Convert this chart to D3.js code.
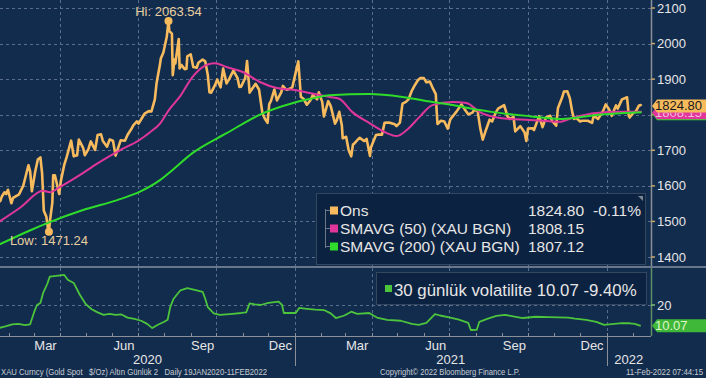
<!DOCTYPE html>
<html>
<head>
<meta charset="utf-8">
<script src="https://cdn.jsdelivr.net/npm/d3@7"></script>
<style>
   html, body { margin: 0; padding: 0; background: #112b4c; }
   svg { display: block; font-family: "Liberation Sans", Arial, sans-serif; }
</style>
</head>
<body>
<div id="chart"></div>
<script>
// gold spot (XAU)
const ons = [
   ["2020-01-20",1560],["2020-01-22",1557],["2020-01-24",1571],["2020-01-27",1582],["2020-01-29",1577],["2020-01-31",1589],
   ["2020-02-04",1551],["2020-02-06",1566],["2020-02-10",1572],["2020-02-13",1576],["2020-02-18",1601],["2020-02-20",1620],
   ["2020-02-24",1658],["2020-02-26",1641],["2020-02-28",1585],["2020-03-03",1641],["2020-03-06",1674],["2020-03-09",1680],
   ["2020-03-11",1635],["2020-03-13",1530],["2020-03-16",1513],["2020-03-18",1478],["2020-03-19",1471.24],["2020-03-20",1498],
   ["2020-03-23",1553],["2020-03-24",1630],["2020-03-26",1630],["2020-03-31",1577],["2020-04-02",1614],["2020-04-06",1660],
   ["2020-04-09",1683],["2020-04-14",1727],["2020-04-17",1683],["2020-04-21",1686],["2020-04-23",1730],["2020-04-28",1707],
   ["2020-04-30",1686],["2020-05-04",1702],["2020-05-07",1725],["2020-05-12",1701],["2020-05-15",1743],["2020-05-19",1745],
   ["2020-05-21",1727],["2020-05-26",1710],["2020-05-29",1730],["2020-06-02",1727],["2020-06-05",1685],["2020-06-09",1714],
   ["2020-06-11",1728],["2020-06-16",1727],["2020-06-19",1743],["2020-06-24",1762],["2020-06-26",1771],["2020-06-30",1781],
   ["2020-07-02",1775],["2020-07-07",1795],["2020-07-09",1803],["2020-07-14",1810],["2020-07-17",1809],["2020-07-21",1843],
   ["2020-07-23",1888],["2020-07-24",1902],["2020-07-27",1941],["2020-07-28",1958],["2020-07-31",1975],["2020-08-04",2019],
   ["2020-08-06",2063.54],["2020-08-07",2035],["2020-08-10",2028],["2020-08-11",1911],["2020-08-13",1955],["2020-08-14",1944],
   ["2020-08-18",2013],["2020-08-19",1930],["2020-08-21",1940],["2020-08-25",1928],["2020-08-27",1929],["2020-08-28",1964],
   ["2020-09-01",1970],["2020-09-04",1934],["2020-09-08",1932],["2020-09-10",1946],["2020-09-15",1955],["2020-09-18",1950],
   ["2020-09-21",1912],["2020-09-23",1863],["2020-09-25",1862],["2020-09-30",1886],["2020-10-02",1899],["2020-10-06",1877],
   ["2020-10-09",1930],["2020-10-13",1888],["2020-10-16",1900],["2020-10-21",1924],["2020-10-26",1902],["2020-10-28",1878],
   ["2020-10-30",1879],["2020-11-04",1904],["2020-11-06",1951],["2020-11-09",1862],["2020-11-12",1873],["2020-11-16",1887],
   ["2020-11-20",1871],["2020-11-24",1804],["2020-11-27",1788],["2020-11-30",1777],["2020-12-02",1830],["2020-12-04",1839],
   ["2020-12-08",1871],["2020-12-11",1840],["2020-12-16",1863],["2020-12-18",1881],["2020-12-21",1872],["2020-12-23",1870],
   ["2020-12-29",1877],["2020-12-31",1898],["2021-01-05",1950],["2021-01-06",1918],["2021-01-08",1850],["2021-01-11",1845],
   ["2021-01-15",1828],["2021-01-19",1840],["2021-01-22",1855],["2021-01-27",1843],["2021-01-29",1863],["2021-02-02",1836],
   ["2021-02-04",1795],["2021-02-09",1838],["2021-02-12",1824],["2021-02-17",1775],["2021-02-19",1784],["2021-02-22",1808],
   ["2021-02-25",1770],["2021-02-26",1734],["2021-03-02",1738],["2021-03-05",1700],["2021-03-08",1683],["2021-03-10",1716],
   ["2021-03-12",1720],["2021-03-16",1731],["2021-03-18",1735],["2021-03-23",1726],["2021-03-26",1732],["2021-03-30",1684],
   ["2021-03-31",1708],["2021-04-06",1743],["2021-04-09",1744],["2021-04-13",1744],["2021-04-16",1777],["2021-04-20",1778],
   ["2021-04-23",1777],["2021-04-28",1773],["2021-04-30",1768],["2021-05-04",1778],["2021-05-07",1831],["2021-05-11",1836],
   ["2021-05-14",1843],["2021-05-18",1868],["2021-05-21",1881],["2021-05-25",1897],["2021-05-28",1903],["2021-06-01",1903],
   ["2021-06-04",1891],["2021-06-08",1893],["2021-06-11",1877],["2021-06-15",1858],["2021-06-16",1812],["2021-06-17",1774],
   ["2021-06-21",1783],["2021-06-25",1781],["2021-06-29",1761],["2021-07-02",1787],["2021-07-07",1802],["2021-07-09",1808],
   ["2021-07-15",1829],["2021-07-20",1811],["2021-07-23",1801],["2021-07-28",1806],["2021-07-30",1814],["2021-08-03",1810],
   ["2021-08-06",1763],["2021-08-09",1730],["2021-08-12",1752],["2021-08-17",1786],["2021-08-20",1781],["2021-08-24",1805],
   ["2021-08-27",1817],["2021-09-03",1827],["2021-09-07",1795],["2021-09-10",1788],["2021-09-14",1794],["2021-09-16",1753],
   ["2021-09-22",1768],["2021-09-27",1750],["2021-09-29",1726],["2021-10-01",1761],["2021-10-06",1762],["2021-10-08",1757],
   ["2021-10-14",1796],["2021-10-18",1765],["2021-10-22",1792],["2021-10-27",1797],["2021-10-29",1783],["2021-11-03",1769],
   ["2021-11-05",1818],["2021-11-10",1849],["2021-11-12",1865],["2021-11-16",1866],["2021-11-19",1846],["2021-11-22",1805],
   ["2021-11-24",1788],["2021-11-26",1792],["2021-12-01",1781],["2021-12-03",1783],["2021-12-08",1783],["2021-12-10",1783],
   ["2021-12-15",1777],["2021-12-17",1798],["2021-12-22",1788],["2021-12-28",1811],["2021-12-31",1829],["2022-01-04",1815],
   ["2022-01-07",1797],["2022-01-12",1826],["2022-01-14",1817],["2022-01-19",1843],["2022-01-25",1849],["2022-01-27",1797],
   ["2022-01-28",1792],["2022-02-02",1807],["2022-02-04",1808],["2022-02-08",1826],["2022-02-10",1827],["2022-02-11",1824.80]
];

const sma50 = [
   ["2020-01-20",1498],["2020-02-15",1540],["2020-03-12",1586],["2020-03-20",1582],["2020-04-01",1597],["2020-04-24",1630],
   ["2020-05-14",1662],["2020-06-10",1700],["2020-07-03",1729],["2020-07-15",1750],["2020-07-27",1775],["2020-08-07",1815],
   ["2020-08-19",1850],["2020-09-03",1906],["2020-09-15",1934],["2020-09-29",1945],["2020-10-13",1934],["2020-11-01",1920],
   ["2020-11-21",1892],["2020-12-11",1875],["2020-12-30",1870],["2021-01-18",1861],["2021-02-11",1850],["2021-02-22",1845],
   ["2021-03-09",1808],["2021-03-29",1777],["2021-04-18",1749],["2021-04-30",1740],["2021-05-12",1757],["2021-05-27",1794],
   ["2021-06-11",1827],["2021-07-05",1836],["2021-07-21",1833],["2021-08-05",1808],["2021-08-29",1791],["2021-10-03",1785],
   ["2021-10-23",1782],["2021-11-07",1780],["2021-11-22",1791],["2021-12-20",1805],["2022-01-16",1808],["2022-02-11",1808.15]
];

const sma200 = [
   ["2020-01-20",1434],["2020-02-27",1476],["2020-03-20",1498],["2020-04-28",1532],["2020-06-07",1560],["2020-07-03",1583],
   ["2020-07-27",1616],["2020-08-08",1639],["2020-09-03",1692],["2020-10-13",1748],["2020-11-21",1800],["2020-12-30",1833],
   ["2021-01-18",1844],["2021-02-11",1855],["2021-03-29",1858],["2021-05-07",1850],["2021-06-11",1836],["2021-07-05",1827],
   ["2021-08-05",1813],["2021-08-19",1808],["2021-10-03",1796],["2021-11-10",1788],["2021-12-20",1799],["2022-02-03",1806],
   ["2022-02-11",1807.12]
];

// 30 günlük volatilite
const vol30 = [
   ["2020-01-20",9.0],["2020-01-28",9.8],["2020-02-05",10.8],["2020-02-12",11.0],["2020-02-20",10.4],["2020-02-26",10.8],
   ["2020-03-02",17],["2020-03-05",20],["2020-03-09",21],["2020-03-12",25.5],["2020-03-17",30],["2020-03-20",33.5],
   ["2020-03-30",34],["2020-04-06",34.3],["2020-04-10",32],["2020-04-17",30.5],["2020-04-24",25],["2020-05-01",20.5],
   ["2020-05-08",18],["2020-05-15",16.5],["2020-05-22",15.3],["2020-05-29",15.8],["2020-06-05",15.3],["2020-06-12",15.5],
   ["2020-06-19",14],["2020-06-27",13.4],["2020-07-05",12.5],["2020-07-12",11],["2020-07-18",9],["2020-07-24",10.5],
   ["2020-08-01",12],["2020-08-05",13],["2020-08-08",19],["2020-08-12",23],["2020-08-20",27],["2020-08-28",28],
   ["2020-09-08",27],["2020-09-15",26.3],["2020-09-18",23],["2020-09-21",19],["2020-09-28",16],["2020-10-05",15.3],
   ["2020-10-20",15.8],["2020-10-30",16.2],["2020-11-05",16.5],["2020-11-09",20.8],["2020-11-15",20.3],["2020-11-22",20],
   ["2020-12-01",21],["2020-12-13",21.6],["2020-12-17",20],["2020-12-19",16.2],["2021-01-02",16.2],["2021-01-06",18.6],
   ["2021-01-15",18.2],["2021-01-25",17.8],["2021-02-04",17.6],["2021-02-12",16],["2021-02-18",13.8],["2021-02-28",15],
   ["2021-03-08",16.8],["2021-03-15",15.8],["2021-03-29",16.2],["2021-04-07",14],["2021-04-19",12.9],["2021-05-05",12.5],
   ["2021-05-18",11],["2021-05-26",10.5],["2021-06-04",11.5],["2021-06-14",15.7],["2021-06-20",15],["2021-07-02",14],
   ["2021-07-12",13],["2021-07-23",11.5],["2021-07-26",8.1],["2021-08-02",8.2],["2021-08-05",12],["2021-08-15",13.5],
   ["2021-08-25",14.8],["2021-09-04",15.3],["2021-09-15",14.5],["2021-09-25",13.8],["2021-10-10",14.4],["2021-10-25",14.2],
   ["2021-11-17",14],["2021-11-25",13.5],["2021-12-08",12.9],["2021-12-20",12],["2021-12-29",10.5],["2022-01-10",11],
   ["2022-01-19",11.4],["2022-01-28",11.3],["2022-02-03",11.0],["2022-02-10",10.07]
];

const priceTicks = [1400, 1500, 1600, 1700, 1800, 1900, 2000, 2100];
const volTicks = [20];
const monthLabels = [
   ["2020-03-15","Mar"],["2020-06-15","Jun"],["2020-09-15","Sep"],["2020-12-15","Dec"],
   ["2021-03-15","Mar"],["2021-06-15","Jun"],["2021-09-15","Sep"],["2021-12-15","Dec"]
];
const yearLabels = ["2020", "2021", "2022"];
const legendRows = [
   ["Ons", "1824.80", "-0.11%"],
   ["SMAVG (50) (XAU BGN)", "1808.15", ""],
   ["SMAVG (200) (XAU BGN)", "1807.12", ""]
];

document.addEventListener("DOMContentLoaded", () => {
   const fullWidth = 706;
   const fullHeight = 378;
   const plotRight = 651;
   const upperBottom = 266;
   const lowerTop = 268;
   const lowerBottom = 336;
   const parse = d3.utcParse("%Y-%m-%d");

   const colOns = "#f7bb5e";
   const colSma50 = "#e0369c";
   const colSma200 = "#2fdc2a";
   const colVol = "#4cc43c";
   const colText = "#e6e6e6";

   const svg = d3.select("#chart")
      .append("svg")
      .attr("width", fullWidth)
      .attr("height", fullHeight);

   svg.append("rect")
      .attr("width", fullWidth)
      .attr("height", fullHeight)
      .attr("fill", "#122c4e");

   const start = parse("2020-01-19");
   const end = parse("2022-02-11");
   const xScale = d3.scaleUtc()
      .domain([start, end])
      .range([-2.3, 641.6]);
   const yScale = d3.scaleLinear()
      .domain([1400, 2100])
      .range([257, 8]);
   const yVol = d3.scaleLinear()
      .domain([10, 20])
      .range([326, 305]);

   // grid
   const grid = svg.append("g")
      .attr("stroke", "#5a6d8a")
      .attr("stroke-width", 1)
      .attr("stroke-dasharray", "3,3");
   grid.selectAll(".hgrid")
      .data(priceTicks)
      .enter()
      .append("line")
      .attr("x1", 0)
      .attr("x2", plotRight)
      .attr("y1", d => Math.round(yScale(d)) + 0.5)
      .attr("y2", d => Math.round(yScale(d)) + 0.5);
   grid.selectAll(".vgrid")
      .data(volTicks)
      .enter()
      .append("line")
      .attr("x1", 0)
      .attr("x2", plotRight)
      .attr("y1", d => Math.round(yVol(d)) + 0.5)
      .attr("y2", d => Math.round(yVol(d)) + 0.5);

   const quarters = d3.utcMonth.every(3).range(start, end);
   quarters.forEach(q => {
      const x = Math.round(xScale(q)) + 0.5;
      grid.append("line").attr("x1", x).attr("x2", x).attr("y1", 0).attr("y2", upperBottom);
      grid.append("line").attr("x1", x).attr("x2", x).attr("y1", lowerTop).attr("y2", lowerBottom);
   });

   // series
   const line = d3.line()
      .x(d => xScale(parse(d[0])))
      .y(d => yScale(d[1]));
   const volLine = d3.line()
      .x(d => xScale(parse(d[0])))
      .y(d => yVol(d[1]));

   svg.append("path")
      .datum(ons)
      .attr("d", line)
      .attr("fill", "none")
      .attr("stroke", colOns)
      .attr("stroke-width", 2.6)
      .attr("stroke-linejoin", "round");
   svg.append("path")
      .datum(sma50)
      .attr("d", line.curve(d3.curveMonotoneX))
      .attr("fill", "none")
      .attr("stroke", colSma50)
      .attr("stroke-width", 2);
   svg.append("path")
      .datum(sma200)
      .attr("d", line.curve(d3.curveMonotoneX))
      .attr("fill", "none")
      .attr("stroke", colSma200)
      .attr("stroke-width", 2);

   svg.append("path")
      .datum(vol30)
      .attr("d", volLine)
      .attr("fill", "none")
      .attr("stroke", colVol)
      .attr("stroke-width", 1.8)
      .attr("stroke-linejoin", "round");

   // hi / low markers
   const hi = ons.reduce((a, b) => (b[1] > a[1] ? b : a));
   const lo = ons.reduce((a, b) => (b[1] < a[1] ? b : a));
   [[hi, "Hi: ", -5], [lo, "Low: ", 13]].forEach(([p, pre, dy]) => {
      const px = xScale(parse(p[0]));
      const py = yScale(p[1]);
      svg.append("circle")
         .attr("cx", px)
         .attr("cy", py)
         .attr("r", 4)
         .attr("fill", colOns);
      svg.append("text")
         .attr("x", px)
         .attr("y", py + dy)
         .attr("text-anchor", "middle")
         .attr("font-size", 13)
         .attr("fill", "#e9cf9f")
         .text(pre + p[1].toFixed(2));
   });

   // panel separator and axes
   svg.append("rect")
      .attr("x", 0)
      .attr("y", upperBottom)
      .attr("width", fullWidth)
      .attr("height", 2)
      .attr("fill", "#68778b");
   svg.append("line")
      .attr("x1", plotRight + 0.5)
      .attr("x2", plotRight + 0.5)
      .attr("y1", 0)
      .attr("y2", upperBottom)
      .attr("stroke", "#8a8f98")
      .attr("stroke-width", 1.5);
   svg.append("line")
      .attr("x1", plotRight + 0.5)
      .attr("x2", plotRight + 0.5)
      .attr("y1", lowerTop)
      .attr("y2", lowerBottom)
      .attr("stroke", "#5f8f66")
      .attr("stroke-width", 1.5);
   svg.append("line")
      .attr("x1", 0)
      .attr("x2", plotRight)
      .attr("y1", lowerBottom + 0.5)
      .attr("y2", lowerBottom + 0.5)
      .attr("stroke", "#8a8f98")
      .attr("stroke-width", 1);

   const yAxis = svg.append("g");
   yAxis.selectAll("line")
      .data(priceTicks)
      .enter()
      .append("line")
      .attr("x1", plotRight)
      .attr("x2", plotRight + 4)
      .attr("y1", d => yScale(d))
      .attr("y2", d => yScale(d))
      .attr("stroke", "#c9a66a")
      .attr("stroke-width", 1.5);
   yAxis.selectAll("text")
      .data(priceTicks)
      .enter()
      .append("text")
      .attr("x", plotRight + 6)
      .attr("y", d => yScale(d) + 4.5)
      .attr("font-size", 13)
      .attr("fill", colText)
      .text(d => d);

   const vAxis = svg.append("g");
   vAxis.selectAll("line")
      .data(volTicks)
      .enter()
      .append("line")
      .attr("x1", plotRight)
      .attr("x2", plotRight + 4)
      .attr("y1", d => yVol(d))
      .attr("y2", d => yVol(d))
      .attr("stroke", "#7fbf7a")
      .attr("stroke-width", 1.5);
   vAxis.selectAll("text")
      .data(volTicks)
      .enter()
      .append("text")
      .attr("x", plotRight + 6)
      .attr("y", d => yVol(d) + 4.5)
      .attr("font-size", 13)
      .attr("fill", colText)
      .text(d => d);

   // month ticks on the bottom axis
   svg.append("g")
      .selectAll("line")
      .data(d3.utcMonth.range(start, end))
      .enter()
      .append("line")
      .attr("x1", d => Math.round(xScale(d)) + 0.5)
      .attr("x2", d => Math.round(xScale(d)) + 0.5)
      .attr("y1", lowerBottom - 3)
      .attr("y2", lowerBottom)
      .attr("stroke", "#8a8f98");

   svg.append("g")
      .selectAll("text")
      .data(monthLabels)
      .enter()
      .append("text")
      .attr("x", d => xScale(parse(d[0])))
      .attr("y", 350)
      .attr("text-anchor", "middle")
      .attr("font-size", 13)
      .attr("fill", colText)
      .text(d => d[1]);

   // year separators and labels
   yearLabels.forEach(yr => {
      const y0 = parse(yr + "-01-01");
      const y1 = parse((+yr + 1) + "-01-01");
      const a = Math.max(0, xScale(y0));
      const b = Math.min(plotRight, xScale(y1));
      if (y0 > start) {
         const xs = Math.round(xScale(y0)) + 0.5;
         svg.append("line")
            .attr("x1", xs).attr("x2", xs)
            .attr("y1", lowerBottom).attr("y2", 366)
            .attr("stroke", "#8a8f98");
      }
      svg.append("text")
         .attr("x", (a + b) / 2)
         .attr("y", 364)
         .attr("text-anchor", "middle")
         .attr("font-size", 13)
         .attr("fill", colText)
         .text(yr);
   });

   // upper legend
   const leg = svg.append("g");
   leg.append("rect")
      .attr("x", 316.5)
      .attr("y", 193.5)
      .attr("width", 329)
      .attr("height", 71)
      .attr("fill", "#0c2241")
      .attr("stroke", "#33475f");
   leg.append("path")
      .attr("d", "M638,196 L643,196 L643,201 Z")
      .attr("fill", "#7d8794");
   leg.append("line")
      .attr("x1", 325.5).attr("x2", 325.5)
      .attr("y1", 209).attr("y2", 248)
      .attr("stroke", "#6c7788");
   const legColors = [colOns, colSma50, colSma200];
   legendRows.forEach((r, i) => {
      const by = 216 + i * 18;
      leg.append("line")
         .attr("x1", 325).attr("x2", 330)
         .attr("y1", by - 5.5).attr("y2", by - 5.5)
         .attr("stroke", "#6c7788");
      leg.append("rect")
         .attr("x", 330)
         .attr("y", by - 9.5)
         .attr("width", 8)
         .attr("height", 8)
         .attr("fill", legColors[i]);
      leg.append("text")
         .attr("x", 340)
         .attr("y", by)
         .attr("font-size", 15.5)
         .attr("fill", colText)
         .text(r[0]);
      leg.append("text")
         .attr("x", 528)
         .attr("y", by)
         .attr("font-size", 15.5)
         .attr("fill", colText)
         .text(r[1]);
      if (r[2]) {
         leg.append("text")
            .attr("x", 593)
            .attr("y", by)
            .attr("font-size", 15.5)
            .attr("fill", colText)
            .text(r[2]);
      }
   });

   // lower legend
   const leg2 = svg.append("g");
   leg2.append("rect")
      .attr("x", 376.5)
      .attr("y", 272.5)
      .attr("width", 270)
      .attr("height", 32)
      .attr("fill", "#0c2241")
      .attr("stroke", "#33475f");
   leg2.append("rect")
      .attr("x", 385)
      .attr("y", 285)
      .attr("width", 7)
      .attr("height", 7)
      .attr("fill", colVol);
   leg2.append("text")
      .attr("x", 394)
      .attr("y", 296)
      .attr("font-size", 16.8)
      .attr("fill", colText)
      .text("30 günlük volatilite 10.07 -9.40%");

   // value tags on the right
   const tagShape = (y, fill) => {
      svg.append("path")
         .attr("d", `M${plotRight + 1},${y} L${plotRight + 6},${y - 6.5} L${fullWidth},${y - 6.5} L${fullWidth},${y + 6.5} L${plotRight + 6},${y + 6.5} Z`)
         .attr("fill", fill);
   };
   const tagText = (y, color, label) => {
      svg.append("text")
         .attr("x", plotRight + 4)
         .attr("y", y + 4.5)
         .attr("font-size", 13)
         .attr("fill", color)
         .text(label);
   };
   const ySma200 = yScale(sma200[sma200.length - 1][1]) + 1.5;
   const ySma50 = yScale(sma50[sma50.length - 1][1]) + 1;
   const yOns = yScale(ons[ons.length - 1][1]);
   const yV = yVol(vol30[vol30.length - 1][1]);
   tagShape(ySma200, colSma200);
   tagShape(ySma50, colSma50);
   // magenta tag text sits mostly behind the price tag, as in the original
   svg.append("clipPath").attr("id", "under")
      .append("rect").attr("x", plotRight).attr("y", yOns + 6.5).attr("width", 60).attr("height", 10);
   svg.append("g").attr("clip-path", "url(#under)")
      .append("text")
      .attr("x", plotRight + 4)
      .attr("y", ySma50 + 4.5)
      .attr("font-size", 13)
      .attr("fill", "#f3b9de")
      .text(sma50[sma50.length - 1][1].toFixed(2));
   tagShape(yOns, colOns);
   tagText(yOns, "#1a1a1a", ons[ons.length - 1][1].toFixed(2));
   tagShape(yV, "#3fb83a");
   tagText(yV, "#dff5c8", vol30[vol30.length - 1][1].toFixed(2));

   // footer
   const foot = svg.append("g")
      .attr("font-size", 9.5)
      .attr("fill", "#c9ccd2");
   foot.append("text")
      .attr("x", 1)
      .attr("y", 375)
      .attr("xml:space", "preserve")
      .attr("textLength", 266)
      .attr("lengthAdjust", "spacingAndGlyphs")
      .text("XAU Curncy (Gold Spot   $/Oz) Altın Günlük 2   Daily 19JAN2020-11FEB2022");
   foot.append("text")
      .attr("x", 450)
      .attr("y", 375)
      .attr("text-anchor", "middle")
      .attr("textLength", 140)
      .attr("lengthAdjust", "spacingAndGlyphs")
      .text("Copyright© 2022 Bloomberg Finance L.P.");
   foot.append("text")
      .attr("x", 703)
      .attr("y", 375)
      .attr("text-anchor", "end")
      .attr("textLength", 77)
      .attr("lengthAdjust", "spacingAndGlyphs")
      .text("11-Feb-2022 07:44:15");
});
</script>
</body>
</html>
